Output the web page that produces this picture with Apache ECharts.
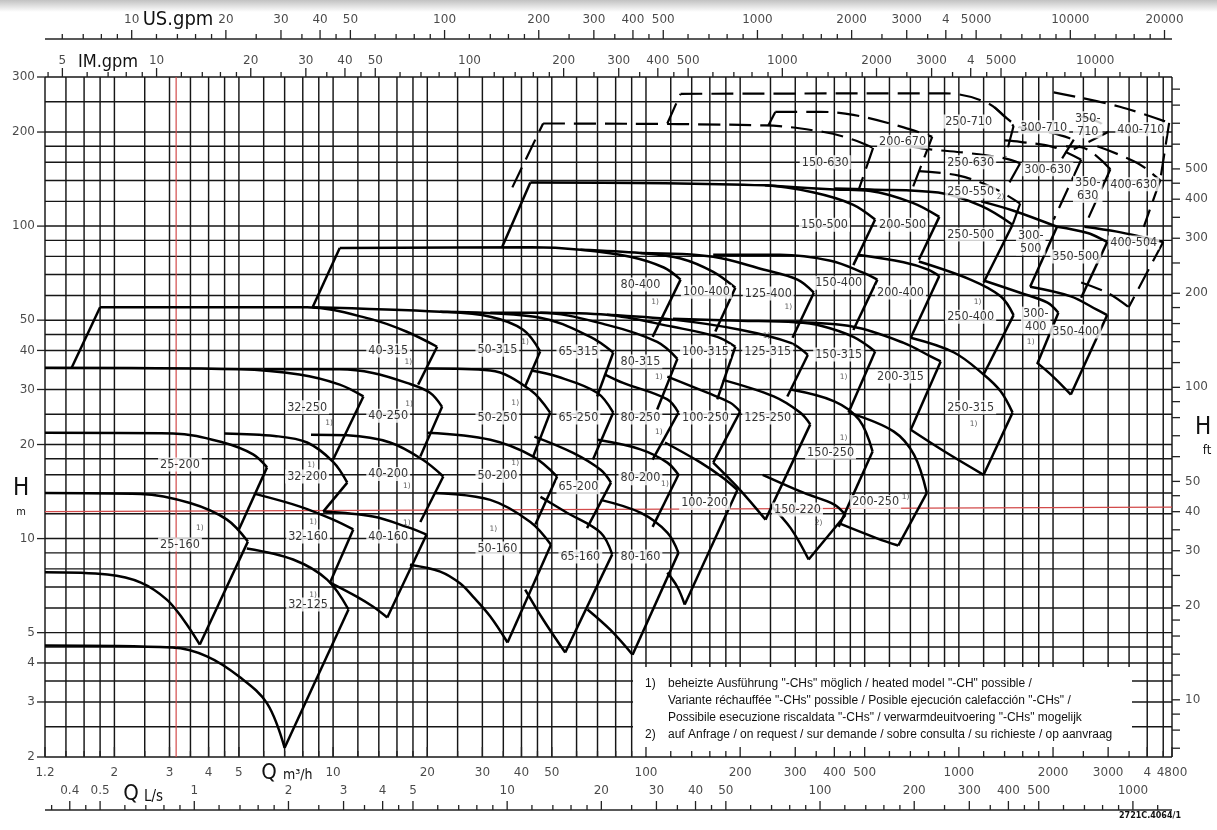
<!DOCTYPE html>
<html><head><meta charset="utf-8"><title>Pump selection chart</title>
<script src="https://cdn.jsdelivr.net/npm/echarts@6.0.0/dist/echarts.min.js"></script>
<style>html,body{margin:0;padding:0;background:#fff;}#chart{width:1217px;height:830px;}</style>
</head><body><div id="chart"></div>
<script>
// ---------- axis / grid values ----------
const gridQ = [1.2,1.4,1.6,1.8,2,2.5,3,3.5,4,4.5,5,6,7,8,9,10,12,14,16,18,20,25,30,35,40,45,50,60,70,80,90,100,120,140,160,180,200,250,300,350,400,450,500,600,700,800,900,1000,1200,1400,1600,1800,2000,2500,3000,3500,4000,4500,4800];
const gridH = [2,2.5,3,3.5,4,4.5,5,6,7,8,9,10,12,14,16,18,20,25,30,35,40,45,50,60,70,80,90,100,120,140,160,180,200,250,300];
const hLabels = [2,3,4,5,10,20,30,40,50,100,200,300];
const qLabels = [[1.2,'1.2'],[2,'2'],[3,'3'],[4,'4'],[5,'5'],[10,'10'],[20,'20'],[30,'30'],[40,'40'],[50,'50'],[100,'100'],[200,'200'],[300,'300'],[400,'400'],[500,'500'],[1000,'1000'],[2000,'2000'],[3000,'3000'],[4000,'4'],[4800,'4800']];
const usTicks = [6,7,8,9,10,12,14,16,18,20,25,30,35,40,45,50,60,70,80,90,100,120,140,160,180,200,250,300,350,400,450,500,600,700,800,900,1000,1200,1400,1600,1800,2000,2500,3000,3500,4000,4500,5000,6000,7000,8000,9000,10000,12000,14000,16000,18000,20000];
const usLabels = [[10,'10'],[20,'20'],[30,'30'],[40,'40'],[50,'50'],[100,'100'],[200,'200'],[300,'300'],[400,'400'],[500,'500'],[1000,'1000'],[2000,'2000'],[3000,'3000'],[4000,'4'],[5000,'5000'],[10000,'10000'],[20000,'20000']];
const imTicks = [4.5,5,6,7,8,9,10,12,14,16,18,20,25,30,35,40,45,50,60,70,80,90,100,120,140,160,180,200,250,300,350,400,450,500,600,700,800,900,1000,1200,1400,1600,1800,2000,2500,3000,3500,4000,4500,5000,6000,7000,8000,9000,10000,12000,14000,16000];
const imLabels = [[5,'5'],[10,'10'],[20,'20'],[30,'30'],[40,'40'],[50,'50'],[100,'100'],[200,'200'],[300,'300'],[400,'400'],[500,'500'],[1000,'1000'],[2000,'2000'],[3000,'3000'],[4000,'4'],[5000,'5000'],[10000,'10000']];
const lsTicks = [0.35,0.4,0.45,0.5,0.6,0.7,0.8,0.9,1,1.2,1.4,1.6,1.8,2,2.5,3,3.5,4,4.5,5,6,7,8,9,10,12,14,16,18,20,25,30,35,40,45,50,60,70,80,90,100,120,140,160,180,200,250,300,350,400,450,500,600,700,800,900,1000,1200];
const lsLabels = [[0.4,'0.4'],[0.5,'0.5'],[1,'1'],[2,'2'],[3,'3'],[4,'4'],[5,'5'],[10,'10'],[20,'20'],[30,'30'],[40,'40'],[50,'50'],[100,'100'],[200,'200'],[300,'300'],[400,'400'],[500,'500'],[1000,'1000']];
const ftTicks = [7,8,9,10,12,14,16,18,20,25,30,35,40,45,50,60,70,80,90,100,120,140,160,180,200,250,300,350,400,450,500,600,700,800,900];
const ftLabels = [10,20,30,40,50,100,200,300,400,500];
const US_PER_M3H = 4.4029, IM_PER_M3H = 3.6662, LS_PER_M3H = 1/3.6, FT_PER_M = 3.2808;

// ---------- red reference lines ----------
const redV = [[3.15,2],[3.15,300]];
const redH = [[1.2,12.2],[4800,12.6]];

// ---------- pump ranges  (Q m3/h, H m) ----------
const famSmall = [
 {n:'32-125', l:[8.32,6.15], top:[[5.3,9.3],[7.45,8.57],[9.57,7.39],[11.2,5.93]], edge:[7.0,2.14], bot:[[1.2,4.55],[3.06,4.48],[3.95,4.2],[5.04,3.6],[6.15,2.97],[7.0,2.14]]},
 {n:'25-160', l:[3.24,9.57], top:[[1.2,14.0],[2.43,13.9],[3.49,13.0],[4.58,11.5],[5.34,9.78]], edge:[3.75,4.58], bot:[[1.2,7.8],[1.9,7.67],[2.43,7.23],[2.94,6.38],[3.32,5.51],[3.75,4.58]]},
 {n:'32-160', l:[8.32,10.15], top:[[5.63,13.9],[7.84,12.66],[10,11.5],[11.6,10.7]], edge:[9.78,7.23]},
 {n:'40-160', l:[15,10.15], top:[[9.29,12.2],[13.4,11.76],[17.2,10.9],[19.9,10.3]], edge:[14.9,5.59], bot:[[9.78,7.23],[11.9,6.52],[13.4,6.06],[14.9,5.59]]},
 {n:'50-160', l:[33.5,9.3], top:[[21.1,14],[31.8,13.3],[42.7,11.3],[49.7,9.56]], edge:[36.1,4.65], bot:[[17.6,8.25],[22,7.84],[25.5,7.18],[28,6.52],[31.8,5.63],[36.1,4.65]]},
 {n:'65-160', l:[61.7,8.76], top:[[46,13.6],[55.9,12.1],[71.6,10.45],[78,8.9]], edge:[55.2,4.32], bot:[[41.1,6.87],[46.9,5.51],[55.2,4.32]]},
 {n:'80-160', l:[96,8.76], top:[[71.6,13.3],[96,12.1],[117,10.45],[127,9.0]], edge:[90.6,4.25], bot:[[65,5.93],[77,5.1],[90.6,4.25]]}
];
const fam200 = [
 {n:'25-200', l:[3.24,17.25], top:[[1.2,21.8],[3.08,21.7],[4.45,20.3],[5.55,18.6],[6.15,16.9]], edge:[5.0,10.7]},
 {n:'32-200', l:[8.26,15.8], top:[[4.5,21.7],[6.5,21.3],[8.26,20.3],[10,17.6],[11.1,15.1]], edge:[9.3,12.2]},
 {n:'40-200', l:[15,16.1], top:[[8.5,21.5],[11.1,21.4],[15.2,20.3],[19.3,17.9],[22.5,15.8]], edge:[19,11.3]},
 {n:'50-200', l:[33.5,15.9], top:[[20,21.8],[31.8,20.7],[43.6,18.3],[52,15.8]], edge:[44.3,11.1]},
 {n:'65-200', l:[60.8,14.6], top:[[44,21.2],[58.5,18.8],[71.6,16.6],[77.3,15.1]], edge:[64.8,10.8]},
 {n:'80-200', l:[96,15.6], top:[[70,20.7],[96,19.3],[117,17.5],[127,16]], edge:[105,10.9]},
 {n:'100-200', l:[154,13], top:[[115,20.3],[149.6,17.5],[177,15.6],[196,14.3]], edge:[133,6.15], bot:[[117,7.78],[126,7.0],[133,6.15]]},
 {n:'150-220', l:[305,12.4], top:[[236,16],[320,14],[400,12.85],[434,11.9]], edge:[331,8.57], bot:[[250,12.8],[290,10.8],[331,8.57]]}
];
const fam250 = [
 {n:'32-250', l:[8.26,26.3], top:[[1.2,35.2],[5,34.8],[7.8,33.5],[10.5,31.1],[12.5,28.5]], edge:[10,17.9]},
 {n:'40-250', l:[15,24.7], top:[[6,34.8],[10.5,34.8],[13.4,33.9],[17.2,31.5],[20.4,29.3],[22.3,26.4]], edge:[19,18.3]},
 {n:'50-250', l:[33.5,24.4], top:[[20,35],[31.8,34.5],[42.7,29.9],[49.4,25.3]], edge:[43.6,18.3]},
 {n:'65-250', l:[60.8,24.4], top:[[43,34.5],[52,33],[69.8,29.3],[78.6,25.3]], edge:[67.7,17.9]},
 {n:'80-250', l:[96,24.4], top:[[74,33.5],[84.5,31.5],[117,27.9],[127,25.3]], edge:[105,17.9]},
 {n:'100-250', l:[155,24.4], top:[[117,33],[157,29.3],[186,27.2],[200,25.5]], edge:[164,17.5]},
 {n:'125-250', l:[245,24.4], top:[[176,32.2],[256,28.5],[311,25.3],[335,23.2]], edge:[241,11.5], bot:[[164,17.5],[200,14.3],[241,11.5]]},
 {n:'150-250', l:[389,18.85], top:[[290,30],[400,27.5],[480,24],[530,19]], edge:[413,10.9]},
 {n:'200-250', l:[542,13.1], top:[[444,25.3],[620,22],[720,18.5],[790,14]], edge:[640,9.5], bot:[[413,11.2],[550,10],[640,9.5]]}
];
const fam315 = [
 {n:'40-315', l:[15,40], top:[[1.8,55],[8.26,55],[13.4,50.2],[17.2,45.9],[21.5,41.1]], edge:[18.7,31.1], side:[[1.46,35.2],[1.8,55]]},
 {n:'50-315', l:[33.5,40.2], top:[[8.6,55],[22,53.2],[31.8,51.3],[40.5,46.6],[45.9,39.7]], edge:[41.1,30.7]},
 {n:'65-315', l:[60.8,39.7], top:[[22,53.2],[45.9,50.9],[66.4,44.2],[78.6,39.4]], edge:[69.8,28.5]},
 {n:'80-315', l:[96,36.9], top:[[31.8,52.8],[45.9,52.8],[75,48.3],[108.6,42.6],[126,37.6]], edge:[108.6,25.9]},
 {n:'100-315', l:[155,39.7], top:[[45.9,52.8],[75,52],[122,47.6],[169,44.2],[193,41.1]], edge:[169,27.9]},
 {n:'125-315', l:[245,39.7], top:[[75,52],[122,50.2],[200,46.6],[290,42.3],[329,38.7]], edge:[283,28.5]},
 {n:'150-315', l:[413,38.8], top:[[122,50.5],[200,49.8],[300,49.2],[362,48],[460,44.2],[540,39.7]], edge:[444,25.3]},
 {n:'200-315', l:[651,33], top:[[300,49.2],[460,47.6],[666,42.3],[812,38.3],[875,36.9]], edge:[702,22.3]},
 {n:'250-315', l:[1091,26.3], top:[[702,43.9],[965,39.4],[1200,33.5],[1360,29.6],[1485,25.3]], edge:[1200,16], bot:[[702,22.3],[900,19],[1200,16]]}
];
const fam400 = [
 {n:'80-400', l:[96,65], top:[[10.5,85.1],[43,85.5],[61.7,84],[89,79.8],[114,73.7],[129,67.4]], edge:[105,44.2], side:[[8.6,55],[10.5,85.1]]},
 {n:'100-400', l:[156,61.7], top:[[61.7,84],[96,82],[129,78.8],[164,71.4],[193,63.5]], edge:[166.6,46]},
 {n:'125-400', l:[246,60.8], top:[[96,82],[164,79.8],[237,72.6],[305,67.4],[344,61.2]], edge:[294,43.9]},
 {n:'150-400', l:[413,65.9], top:[[164,81],[268,81],[389,77.5],[494,71],[549,67.4]], edge:[460,46.5]},
 {n:'200-400', l:[651,61.3], top:[[475,81],[666,76.6],[797,72.6],[866,69.2]], edge:[702,43.9]},
 {n:'250-400', l:[1091,51.3], top:[[745,77],[1089,67.4],[1360,59.6],[1496,51.9]], edge:[1200,33.5]},
 {n:'300-\n400', l:[1761,50], top:[[1200,67],[1570,61.2],[1920,56.9],[2080,52.8]], edge:[1780,36.2]},
 {n:'350-400', l:[2364,46], top:[[1690,64],[2280,59.6],[2770,53.9],[2980,51.9]], edge:[2280,28.9], bot:[[1780,36.5],[2000,33],[2280,28.9]]}
];
const fam500 = [
 {n:'150-500', l:[372,101], top:[[42.7,138],[240,135],[344,128],[460,117],[540,105]], edge:[460,75], side:[[34.7,85.8],[42.7,138]]},
 {n:'200-500', l:[661,101], top:[[240,135],[400,131],[521,129.5],[712,118.7],[866,107]], edge:[745,78]},
 {n:'250-500', l:[1091,94], top:[[400,132],[521,131],[859,128],[1178,116],[1485,101]], edge:[1200,66]},
 {n:'300-\n500', l:[1697,89], top:[[1178,120],[1496,112],[2060,99.5]], edge:[1690,64]},
 {n:'350-500', l:[2364,80], top:[[2060,99.5],[2580,95],[2980,89]], edge:[2460,59]},
 {n:'400-504', l:[3623,88.6], de:true, top:[[2520,99.5],[3200,96],[3900,92],[4500,89]], edge:[3490,55], bot:[[2460,66],[3000,61],[3490,55]]}
];
const famUpper = [
 {n:'250-550', l:[1091,129], d:true, top:[[745,150],[1000,145],[1300,132],[1570,118]], edge:[1485,101]},
 {n:'150-630', l:[374,160], d:true, top:[[46.9,213],[240,210],[370,200],[460,189],[532,178]], edge:[479,131], side:[[37.4,133],[46.9,213]]},
 {n:'200-670', l:[661,186], d:true, top:[[259,232],[362,232],[460,227],[666,207],[822,193]], edge:[702,128], side:[[246,210],[259,232]]},
 {n:'250-630', l:[1091,160], d:true, top:[[700,180],[812,176],[1089,171],[1390,165],[1570,159]], edge:[1410,131]},
 {n:'300-630', l:[1924,152], d:true, top:[[1400,188],[1570,186],[2010,179],[2460,163]], edge:[2010,105]},
 {n:'350-\n630', l:[2582,131], d:true, top:[[2200,180],[2460,179],[3050,152]], edge:[2520,99.5]},
 {n:'400-630', l:[3623,136], d:true, top:[[2770,180],[3730,159],[4400,140]], edge:[3900,99.5]},
 {n:'250-710', l:[1075,216], d:true, top:[[129,265],[900,266],[1240,247],[1496,209]], edge:[1410,167], side:[[117,213],[129,265]]},
 {n:'300-710', l:[1868,207], d:true, top:[[1300,240],[1570,207],[2010,198],[2330,189]], edge:[2100,160]},
 {n:'350-\n710', l:[2582,211], d:true, top:[[2460,224],[2830,214],[3000,200]], edge:[2330,176]},
 {n:'400-710', l:[3816,204], d:true, top:[[2010,268],[3270,241],[4700,214]], edge:[4400,140]}
];
const notes = [[3.75,10.8,'1)'],[8.5,17.25,'1)'],[9.71,23.5,'1)'],[8.63,11.3,'1)'],[8.63,6.62,'1)'],[17.4,36.6,'1)'],[17.5,27,'1)'],[17.2,14.7,'1)'],[17.2,11.25,'1)'],[32.5,10.7,'1)'],[38.2,27.2,'1)'],[38.2,17.5,'1)'],[41.1,42.4,'1)'],[107,57.3,'1)'],[110,33,'1)'],[110,22,'1)'],[115,14.9,'1)'],[285,54.9,'1)'],[243,44.5,'1)'],[428,33,'1)'],[428,21,'1)'],[356,11.25,'2)'],[676,13.6,'1)'],[1115,23.3,'1)'],[1148,57.3,'1)'],[1697,42.6,'1)'],[1360,124,'2)']];

// ---------- chart ----------
const LBL_FONT = "'DejaVu Sans Condensed','Liberation Sans Narrow','DejaVu Sans',sans-serif";
const AX_FONT = "'DejaVu Sans',sans-serif";
const TXT_FONT = "'Liberation Sans',Arial,sans-serif";
const chart = echarts.init(document.getElementById('chart'), null, {renderer:'canvas'});
const series = [];
const CLEAR = 'rgba(0,0,0,0)';

function custom(data, draw, z){
  return {type:'custom', coordinateSystem:'cartesian2d', data:data, clip:false, silent:true, animation:false, z:z,
    renderItem:function(params, api){ return draw(api, params.dataIndex); }};
}
function seg(a, b, color, w){ return {type:'line', shape:{x1:a[0],y1:a[1],x2:b[0],y2:b[1]}, style:{stroke:color, lineWidth:w}}; }
function labels(items, offset, align, size, z, font){
  return {type:'scatter', data:items, symbolSize:1, itemStyle:{color:CLEAR}, silent:true, animation:false, clip:false, z:z||8,
    label:{show:true, position:'inside', offset:offset, align:align, verticalAlign:'middle', formatter:'{b}', fontSize:size, fontFamily:font||AX_FONT, color:'#1a1a1a'}};
}
const GRID_C = '#161616';
series.push(custom(gridQ.map(q=>[q,2]), (api)=>{const q=api.value(0); return seg(api.coord([q,2]), api.coord([q,300]), GRID_C, 1.45);}, 1));
series.push(custom(gridH.map(h=>[1.2,h]), (api)=>{const h=api.value(1); return seg(api.coord([1.2,h]), api.coord([4800,h]), GRID_C, 1.45);}, 1));
series.push({type:'line', data:redV, symbol:'none', silent:true, animation:false, z:2, lineStyle:{color:'#d24a4a', width:1.2}});
series.push({type:'line', data:redH, symbol:'none', silent:true, animation:false, z:2, lineStyle:{color:'#d24a4a', width:1.2}});

function curve(data, dashed, smooth){
  return {type:'line', data:data, symbol:'none', silent:true, animation:false, z:3, smooth:smooth,
    lineStyle:{color:'#000', width: dashed ? 2.2 : 2.5, type: dashed ? [22,9] : 'solid'}};
}
const allFams = [famSmall, fam200, fam250, fam315, fam400, fam500, famUpper];
const pumpLabels = [];
allFams.forEach(fam => fam.forEach(p => {
  series.push(curve(p.top, p.d, 0.35));
  series.push(curve([p.top[p.top.length-1], p.edge], p.d || p.de, 0));
  if (p.bot) series.push(curve(p.bot, p.d || p.de, 0.35));
  if (p.side) series.push(curve(p.side, p.d, 0));
  pumpLabels.push({name:p.n, value:p.l});
}));
series.push({type:'scatter', data:pumpLabels, symbolSize:1, itemStyle:{color:CLEAR}, silent:true, animation:false, z:6,
  label:{show:true, position:'inside', formatter:'{b}', fontSize:12.5, fontFamily:LBL_FONT, color:'#000', backgroundColor:'#fff', padding:[1,2,0,2], lineHeight:13}});
series.push({type:'scatter', data:notes.map(n=>({name:n[2], value:[n[0],n[1]]})), symbolSize:1, itemStyle:{color:CLEAR}, silent:true, animation:false, z:6,
  label:{show:true, position:'inside', formatter:'{b}', fontSize:7.5, fontFamily:AX_FONT, color:'#333'}});

const usMaj = usLabels.map(a=>a[0]), imMaj = imLabels.map(a=>a[0]), lsMaj = lsLabels.map(a=>a[0]);
series.push(custom([[1.2,300]], (api)=>{const a=api.coord([1.2,300]), b=api.coord([4800,300]); return seg([a[0],a[1]-38],[b[0],b[1]-38],'#222',1.4);}, 9));
series.push(custom(usTicks.map(g=>[g/US_PER_M3H,300]), (api,i)=>{const p=api.coord([api.value(0),300]); const L = usMaj.indexOf(usTicks[i])>=0 ? 9 : 5; return seg([p[0],p[1]-38],[p[0],p[1]-38-L],'#222',1.3);}, 9));
series.push(labels(usLabels.map(a=>({name:a[1], value:[a[0]/US_PER_M3H,300]})), [0,-57], 'center', 12));
series.push(custom(imTicks.map(g=>[g/IM_PER_M3H,300]), (api,i)=>{const p=api.coord([api.value(0),300]); const L = imMaj.indexOf(imTicks[i])>=0 ? 9 : 5; return seg([p[0],p[1]],[p[0],p[1]-L],'#222',1.3);}, 9));
series.push(labels(imLabels.map(a=>({name:a[1], value:[a[0]/IM_PER_M3H,300]})), [0,-16], 'center', 12));
series.push(custom(gridQ.map(q=>[q,2]), (api)=>{const q=api.value(0); const p=api.coord([q,2]); const L = qLabels.some(a=>a[0]===q) ? 10 : 6; return seg([p[0],p[1]],[p[0],p[1]-L],'#222',1.3);}, 60));
series.push(labels(qLabels.map(a=>({name:a[1], value:[a[0],2]})), [0,16], 'center', 12));
series.push(custom([[1.2,2]], (api)=>{const a=api.coord([1.2,2]), b=api.coord([4800,2]); return seg([a[0],a[1]+53],[b[0],b[1]+53],'#222',1.4);}, 9));
series.push(custom(lsTicks.map(l=>[l/LS_PER_M3H,2]), (api,i)=>{const p=api.coord([api.value(0),2]); const L = lsMaj.indexOf(lsTicks[i])>=0 ? 9 : 5; return seg([p[0],p[1]+53],[p[0],p[1]+53-L],'#222',1.3);}, 9));
series.push(labels(lsLabels.map(a=>({name:a[1], value:[a[0]/LS_PER_M3H,2]})), [0,34], 'center', 12));
series.push(custom(hLabels.map(h=>[1.2,h]), (api)=>{const p=api.coord([1.2,api.value(1)]); return seg([p[0]-8,p[1]],[p[0],p[1]],'#222',1.3);}, 9));
series.push(labels(hLabels.map(h=>({name:String(h), value:[1.2,h]})), [-10,0], 'right', 12));
series.push(custom(ftTicks.map(f=>[4800,f/FT_PER_M]), (api)=>{const p=api.coord([4800,api.value(1)]); return seg([p[0],p[1]],[p[0]+8,p[1]],'#222',1.3);}, 9));
series.push(labels(ftLabels.map(f=>({name:String(f), value:[4800,f/FT_PER_M]})), [13,0], 'left', 12));

function gtext(x, y, t, font, align){
  return {type:'text', x:x, y:y, z:70, silent:true,
    style:{text:t, font:font, fill:'#111', align:align||'center', verticalAlign:'middle', textAlign:align||'center', textVerticalAlign:'middle'}};
}
const legendLines = [
  ['1)', 'beheizte Ausführung "-CHs" möglich / heated model "-CH" possible /'],
  ['',   'Variante réchauffée "-CHs" possible / Posible ejecución calefacción "-CHs" /'],
  ['',   'Possibile esecuzione riscaldata "-CHs" / verwarmdeuitvoering "-CHs" mogelijk'],
  ['2)', 'auf Anfrage / on request / sur demande / sobre consulta / su richieste / op aanvraag']
];
const graphics = [
  {type:'rect', z:0, silent:true, shape:{x:0,y:0,width:1217,height:12}, style:{fill:new echarts.graphic.LinearGradient(0,0,0,1,[{offset:0,color:'#c2c2c2'},{offset:1,color:'#ffffff'}])}},
  {type:'rect', z:50, silent:true, shape:{x:633,y:667,width:499,height:89}, style:{fill:'#fff'}},
  gtext(178,20,'US.gpm',"20px "+LBL_FONT),
  gtext(108,62,'IM.gpm',"18px "+LBL_FONT),
  gtext(269,773,'Q',"22px "+LBL_FONT),
  gtext(283,775,'m³/h',"14px "+LBL_FONT,'left'),
  gtext(131,794,'Q',"22px "+LBL_FONT),
  gtext(144,797,'L/s',"15px "+LBL_FONT,'left'),
  gtext(21,489,'H',"24px "+LBL_FONT),
  gtext(21,512,'m',"11px "+LBL_FONT),
  gtext(1203,428,'H',"24px "+LBL_FONT),
  gtext(1207,451,'ft',"13px "+LBL_FONT),
  gtext(1150,816,'2721C.4064/1',"bold 8px "+AX_FONT)
];
legendLines.forEach((ln,i)=>{
  const y = 684 + i*17;
  if (ln[0]) graphics.push(gtext(645,y,ln[0],"12px "+TXT_FONT,'left'));
  graphics.push(gtext(668,y,ln[1],"12px "+TXT_FONT,'left'));
});

chart.setOption({
  animation:false,
  backgroundColor:'#fff',
  grid:{left:45, right:45, top:77, bottom:73, containLabel:false},
  xAxis:{type:'log', logBase:10, min:1.2, max:4800, show:false},
  yAxis:{type:'log', logBase:10, min:2, max:300, show:false},
  graphic:graphics,
  series:series
});
</script></body></html>
